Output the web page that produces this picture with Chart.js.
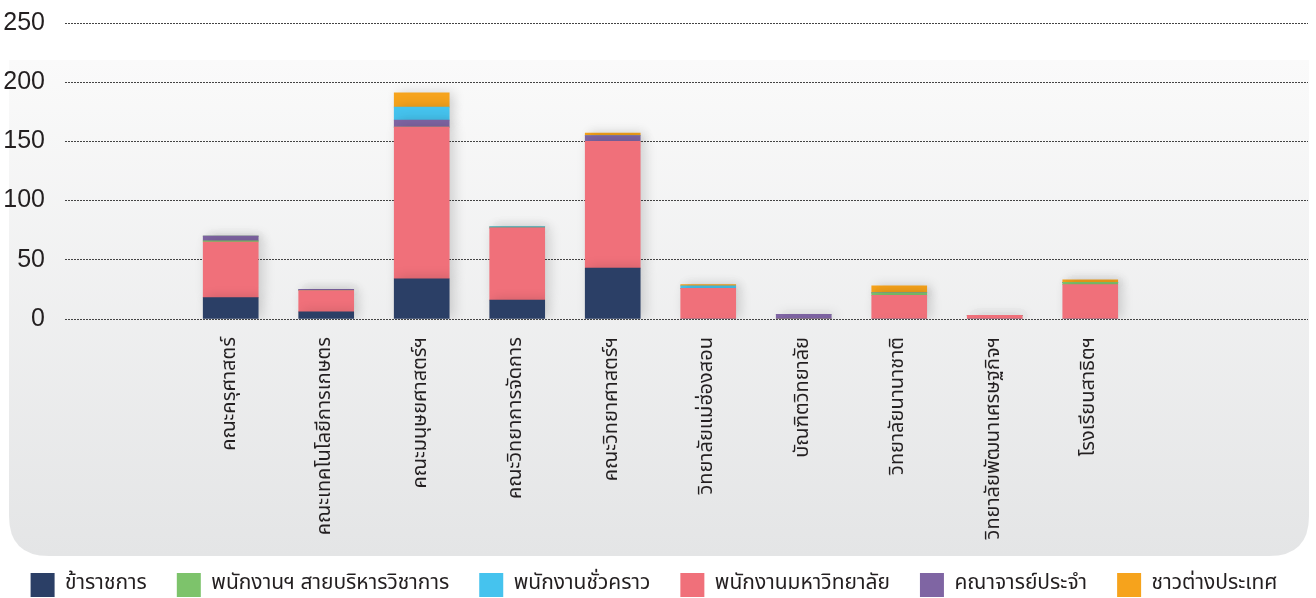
<!DOCTYPE html>
<html>
<head>
<meta charset="utf-8">
<script src="https://cdn.jsdelivr.net/npm/chart.js@4.4.0/dist/chart.umd.min.js"></script>
<style>
  html, body { margin: 0; padding: 0; background: #fff; }
  #wrap { width: 1316px; height: 598px; }
</style>
</head>
<body>
<div id="wrap"><canvas id="staffChart"></canvas></div>
<script>
// faculties and their slot on the x axis
const faculties = [
	"คณะครุศาสตร์",
	"คณะเทคโนโลยีการเกษตร",
	"คณะมนุษยศาสตร์ฯ",
	"คณะวิทยาการจัดการ",
	"คณะวิทยาศาสตร์ฯ",
	"วิทยาลัยแม่ฮ่องสอน",
	"บัณฑิตวิทยาลัย",
	"วิทยาลัยนานาชาติ",
	"วิทยาลัยพัฒนาเศรษฐกิจฯ",
	"โรงเรียนสาธิตฯ",
];
const slots = [1, 2, 3, 4, 5, 6, 7, 8, 9, 10];

// staff counts per faculty
const civilServants = [18, 6, 34, 16, 43, 0, 0, 0, 0, 0];
const supportStaff = [1, 0, 0, 0, 0, 0, 0, 2, 0, 2];
const tempStaff = [0, 0, 11, 1, 0, 2, 0, 0, 0, 0];
const universityStaff = [47, 18, 128, 61, 107, 26, 0, 20, 3, 29];
const lecturers = [4, 1, 6, 0, 5, 0, 4, 0, 0, 0];
const foreigners = [0, 0, 12, 0, 2, 1, 0, 6, 0, 2];

const yTicks = [0, 50, 100, 150, 200, 250];

const thaiFont = "'Noto Sans Thai', 'Noto Sans', sans-serif";

// grey rounded panel behind the plot
const panelPlugin = {
	id: "panel",
	beforeDraw(chart) {
		const c = chart.ctx;
		const x0 = 9, x1 = 1309, y0 = 60, y1 = 556, r = 40;
		const g = c.createLinearGradient(0, y0, 0, y1);
		g.addColorStop(0, "#fafafa");
		g.addColorStop(1, "#e4e5e6");
		c.save();
		c.beginPath();
		c.moveTo(x0, y0);
		c.lineTo(x1, y0);
		c.lineTo(x1, y1 - r);
		c.quadraticCurveTo(x1, y1, x1 - r, y1);
		c.lineTo(x0 + r, y1);
		c.quadraticCurveTo(x0, y1, x0, y1 - r);
		c.closePath();
		c.fillStyle = g;
		c.fill();
		c.restore();
	},
	beforeDatasetsDraw(chart) {
		const c = chart.ctx;
		c.save();
		c.shadowColor = "rgba(0,0,0,0.16)";
		c.shadowBlur = 12;
		c.shadowOffsetX = 4;
	},
	afterDatasetsDraw(chart) {
		chart.ctx.restore();
	},
};

function showChart() {
	const ctx = document.getElementById("staffChart");

	const data = {
		labels: slots,
		datasets: [
			{ label: "ข้าราชการ", data: civilServants, backgroundColor: "#2b3f66", order: 0 },
			{ label: "พนักงานฯ สายบริหารวิชาการ", data: supportStaff, backgroundColor: "#7dc36b", order: 2 },
			{ label: "พนักงานชั่วคราว", data: tempStaff, backgroundColor: "#45c3ee", order: 4 },
			{ label: "พนักงานมหาวิทยาลัย", data: universityStaff, backgroundColor: "#f0707a", order: 1 },
			{ label: "คณาจารย์ประจำ", data: lecturers, backgroundColor: "#7f65a3", order: 3 },
			{ label: "ชาวต่างประเทศ", data: foreigners, backgroundColor: "#f6a31c", order: 5 },
		],
	};

	new Chart(ctx, {
		type: "bar",
		data: data,
		plugins: [panelPlugin],
		options: {
			responsive: true,
			maintainAspectRatio: false,
			animation: false,
			barThickness: 55,
			layout: { padding: { top: 23, right: 8, bottom: -9, left: 0 } },
			plugins: {
				tooltip: { enabled: false },
				legend: {
					position: "bottom",
					labels: {
						sort: (a, b) => a.datasetIndex - b.datasetIndex,
						boxWidth: 24,
						boxHeight: 24,
						padding: 30,
						color: "#231f20",
						font: { family: thaiFont, size: 21 },
					},
				},
			},
			scales: {
				x: {
					type: "linear",
					stacked: true,
					min: -0.735,
					max: 12.28,
					offset: false,
					grid: { display: false, drawTicks: false },
					border: { display: false },
					afterFit(scale) {
						scale.height = 224;
						scale.paddingLeft = 0;
						scale.paddingRight = 0;
					},
					ticks: {
						stepSize: 1,
						maxTicksLimit: 30,
						autoSkip: false,
						minRotation: 90,
						maxRotation: 90,
						padding: 18,
						color: "#231f20",
						font: { family: thaiFont, size: 20 },
						callback: (v) => (Number.isInteger(v) && v >= 1 && v <= faculties.length ? faculties[v - 1] : ""),
					},
				},
				y: {
					stacked: true,
					min: 0,
					max: 250,
					grid: { color: "#444", lineWidth: 1, drawTicks: false },
					border: { display: false, dash: [2, 1] },
					afterFit(scale) {
						scale.width = 65;
						scale.paddingTop = 0;
						scale.paddingBottom = 0;
					},
					afterBuildTicks(scale) {
						scale.ticks = yTicks.map((v) => ({ value: v }));
					},
					ticks: {
						padding: 20,
						color: "#231f20",
						font: { family: "'Liberation Sans', Arial, sans-serif", size: 25 },
					},
				},
			},
		},
	});
}

showChart();
</script>
</body>
</html>
